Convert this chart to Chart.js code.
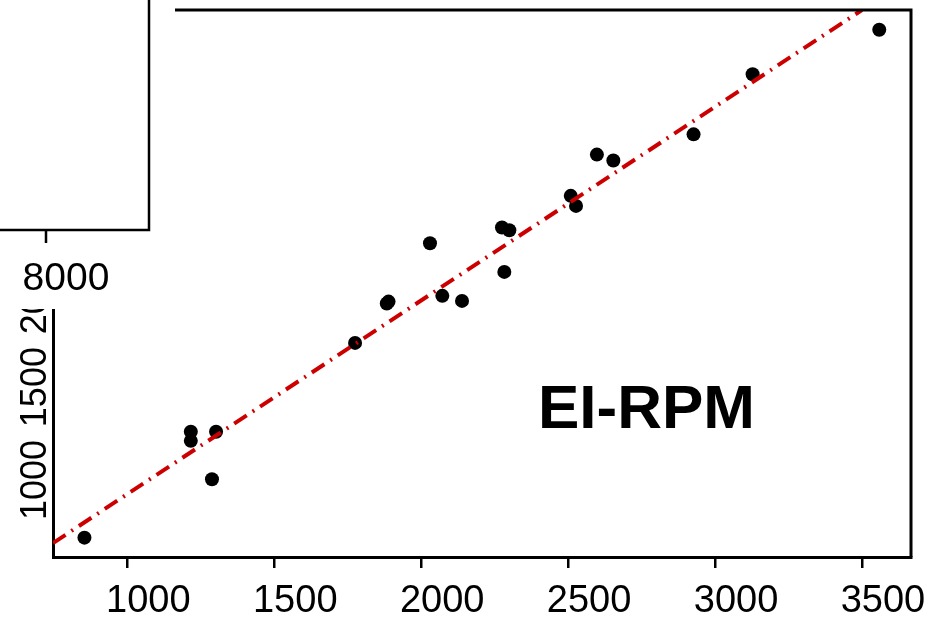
<!DOCTYPE html>
<html>
<head>
<meta charset="utf-8">
<script src="https://cdn.jsdelivr.net/npm/chart.js@4.4.1/dist/chart.umd.min.js"></script>
<style>
  html, body { margin: 0; padding: 0; background: #fff; }
  #wrap { width: 932px; height: 620px; }
</style>
</head>
<body>
<div id="wrap"><canvas id="chart"></canvas></div>
<script>
const obsX = [854, 1216, 1216, 1302, 1288, 1775, 1883, 1889, 2030, 2072, 2139,
              2275, 2300, 2283, 2509, 2527, 2598, 2654, 2927, 3128, 3559];
const predY = [679, 1249, 1200, 1249, 993, 1727, 1939, 1949, 2263, 1980, 1953,
               2348, 2333, 2109, 2518, 2464, 2740, 2708, 2849, 3172, 3412];

// dash-dot reference line
const fitX = [747, 3500];
const fitY = [650, 3518];

const xRange = [747, 3667];
const yRange = [575, 3518];
const xTicks = [1000, 1500, 2000, 2500, 3000, 3500];
const yTicks = [1000, 1500, 2000, 2500, 3000, 3500];

const panelLabel = 'EI-RPM';
const strayLabel = '8000';

const points = obsX.map((x, i) => ({ x: x, y: predY[i] }));
const fitLine = fitX.map((x, i) => ({ x: x, y: fitY[i] }));

const framePlugin = {
    id: 'frame',
    afterDraw(chart) {
        const { ctx, chartArea: a } = chart;
        ctx.save();
        ctx.strokeStyle = '#000';
        ctx.lineWidth = 3;
        ctx.beginPath();
        ctx.moveTo(a.left, a.top);
        ctx.lineTo(a.right, a.top);
        ctx.lineTo(a.right, a.bottom);
        ctx.stroke();

        // neighbouring panel overlaps the top-left corner
        ctx.fillStyle = '#fff';
        ctx.fillRect(0, 0, 175, 309);
        ctx.lineWidth = 2.5;
        ctx.beginPath();
        ctx.moveTo(0, 230);
        ctx.lineTo(149, 230);
        ctx.lineTo(149, 0);
        ctx.moveTo(46, 230);
        ctx.lineTo(46, 243);
        ctx.stroke();
        ctx.fillStyle = '#000';
        ctx.font = '39px "Liberation Sans"';
        ctx.textAlign = 'center';
        ctx.textBaseline = 'alphabetic';
        ctx.fillText(strayLabel, 66, 290);

        ctx.font = 'bold 62px "Liberation Sans"';
        ctx.textAlign = 'left';
        ctx.fillText(panelLabel, 538, 428);
        ctx.restore();
    }
};

new Chart(document.getElementById('chart'), {
    type: 'scatter',
    data: {
        datasets: [{
            type: 'line',
            data: fitLine,
            borderColor: '#cc0000',
            borderWidth: 4,
            borderDash: [15, 7, 2, 7],
            pointRadius: 0,
            fill: false,
            order: 0
        }, {
            data: points,
            backgroundColor: '#000',
            borderWidth: 0,
            pointRadius: 7,
            order: 1
        }]
    },
    options: {
        responsive: true,
        maintainAspectRatio: false,
        animation: false,
        layout: { padding: { top: 10, right: 21, left: 0, bottom: 0 } },
        plugins: {
            legend: { display: false },
            tooltip: { enabled: false }
        },
        scales: {
            x: {
                type: 'linear',
                min: xRange[0],
                max: xRange[1],
                afterBuildTicks: s => { s.ticks = xTicks.map(v => ({ value: v })); },
                afterFit: s => { s.height = 63; s.paddingLeft = 0; s.paddingRight = 0; },
                grid: { drawOnChartArea: false, color: '#000', lineWidth: 2.5, tickLength: 11 },
                border: { display: true, color: '#000', width: 3 },
                ticks: {
                    autoSkip: false,
                    maxRotation: 0,
                    padding: 11,
                    labelOffset: 21,
                    color: '#000',
                    callback: v => String(v),
                    font: { family: '"Liberation Sans"', size: 38 }
                }
            },
            y: {
                type: 'linear',
                min: yRange[0],
                max: yRange[1],
                afterBuildTicks: s => { s.ticks = yTicks.map(v => ({ value: v })); },
                afterFit: s => { s.width = 53; s.paddingTop = 0; s.paddingBottom = 0; },
                grid: { display: false, drawTicks: false, tickLength: 0 },
                border: { display: true, color: '#000', width: 3 },
                ticks: {
                    autoSkip: false,
                    minRotation: 90,
                    maxRotation: 90,
                    padding: 17,
                    labelOffset: -38,
                    color: '#000',
                    callback: v => String(v),
                    font: { family: '"Liberation Sans"', size: 36 }
                }
            }
        }
    },
    plugins: [framePlugin]
});
</script>
</body>
</html>
